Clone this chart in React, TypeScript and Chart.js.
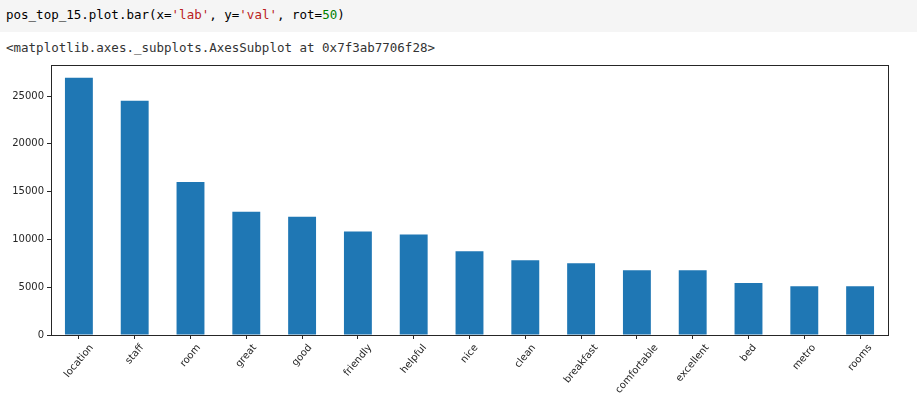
import React, { useEffect, useRef } from "react";
import { Chart, registerables } from "chart.js";

Chart.register(...registerables);

const labels = [
  "location", "staff", "room", "great", "good", "friendly", "helpful", "nice",
  "clean", "breakfast", "comfortable", "excellent", "bed", "metro", "rooms",
];
const values = [
  26900, 24500, 16000, 12900, 12380, 10820, 10510, 8750,
  7810, 7500, 6780, 6770, 5430, 5110, 5110,
];
const yTickValues = [0, 5000, 10000, 15000, 20000, 25000];

const ROT = 50;
const FONT = "DejaVu Sans";

const framePlugin = {
  id: "frame",
  beforeDraw(chart: any) {
    // centre rotated x labels on their ticks, as matplotlib does (ha="center")
    const scale = chart.scales.x;
    const items = scale.getLabelItems();
    if (items && !items.__centred) {
      const ctx = chart.ctx;
      ctx.save();
      ctx.font = `10px "${FONT}"`;
      const c = Math.cos((ROT * Math.PI) / 180);
      items.forEach((it: any) => {
        const w = ctx.measureText(String(it.label)).width;
        it.options.translation[0] += (w / 2) * c;
      });
      ctx.restore();
      items.__centred = true;
    }
  },
  afterDraw(chart: any) {
    const { ctx, chartArea } = chart;
    const l = Math.round(chartArea.left) + 0.5;
    const t = Math.round(chartArea.top) + 0.5;
    const r = Math.round(chartArea.right) + 0.5;
    const b = Math.round(chartArea.bottom) + 0.5;
    ctx.save();
    ctx.strokeStyle = "#262626";
    ctx.lineWidth = 1;
    ctx.strokeRect(l, t, r - l, b - t);
    ctx.restore();
  },
};

function BarChart() {
  const ref = useRef<HTMLCanvasElement>(null);
  useEffect(() => {
    document.body.style.margin = "0";
    Chart.defaults.font.family = FONT;
    Chart.defaults.font.size = 10;
    Chart.defaults.color = "#262626";
    const maxY = Math.max(...values) * 1.05;
    const chart = new Chart(ref.current!, {
      type: "bar",
      data: {
        labels,
        datasets: [
          {
            label: "val",
            data: values,
            backgroundColor: "#1f77b4",
            barPercentage: 0.5,
            categoryPercentage: 1,
          },
        ],
      },
      options: {
        animation: false,
        responsive: false,
        maintainAspectRatio: false,
        devicePixelRatio: 1,
        layout: { padding: { top: 8, right: 29, left: 0, bottom: 0 } },
        plugins: { legend: { display: false }, tooltip: { enabled: false } },
        scales: {
          x: {
            offset: true,
            border: { display: false },
            grid: {
              offset: false,
              drawOnChartArea: false,
              drawTicks: true,
              tickLength: 4,
              tickWidth: 1,
              color: "#262626",
            },
            ticks: {
              autoSkip: false,
              minRotation: ROT,
              maxRotation: ROT,
              padding: 3,
              font: { family: FONT, size: 10 },
              color: "#262626",
            },
            afterFit: (scale: any) => {
              scale.height = 338 - 8 - 271;
            },
          },
          y: {
            min: 0,
            max: maxY,
            border: { display: false },
            grid: {
              drawOnChartArea: false,
              drawTicks: true,
              tickLength: 4,
              tickWidth: 1,
              color: "#262626",
            },
            ticks: {
              stepSize: 5000,
              padding: 3,
              font: { family: FONT, size: 10 },
              color: "#262626",
              callback: (v: any) => String(v),
            },
            afterBuildTicks: (scale: any) => {
              scale.ticks = yTickValues.map((v) => ({ value: v }));
            },
            afterFit: (scale: any) => {
              scale.width = 51;
            },
          },
        },
      },
      plugins: [framePlugin],
    });
    return () => chart.destroy();
  }, []);
  return (
    <canvas
      ref={ref}
      width={917}
      height={338}
      style={{ position: "absolute", left: 0, top: 56, width: 917, height: 338 }}
    />
  );
}

export default function App() {
  const mono: React.CSSProperties = {
    fontFamily: '"DejaVu Sans Mono", monospace',
    fontSize: 12.5,
    whiteSpace: "pre",
    position: "absolute",
    left: 6,
  };
  return (
    <div style={{ position: "relative", width: 917, height: 394, background: "#fff", overflow: "hidden" }}>
      <div style={{ position: "absolute", left: 0, top: 0, width: 917, height: 32, background: "#f5f5f5" }} />
      <div style={{ ...mono, top: 7, lineHeight: "16px", color: "#000" }}>
        pos_top_15.plot.bar(x=<span style={{ color: "#ba2121" }}>'lab'</span>, y=
        <span style={{ color: "#ba2121" }}>'val'</span>, rot=
        <span style={{ color: "#008000" }}>50</span>)
      </div>
      <div style={{ ...mono, top: 40, lineHeight: "16px", color: "#333" }}>
        {"<matplotlib.axes._subplots.AxesSubplot at 0x7f3ab7706f28>"}
      </div>
      <BarChart />
    </div>
  );
}
